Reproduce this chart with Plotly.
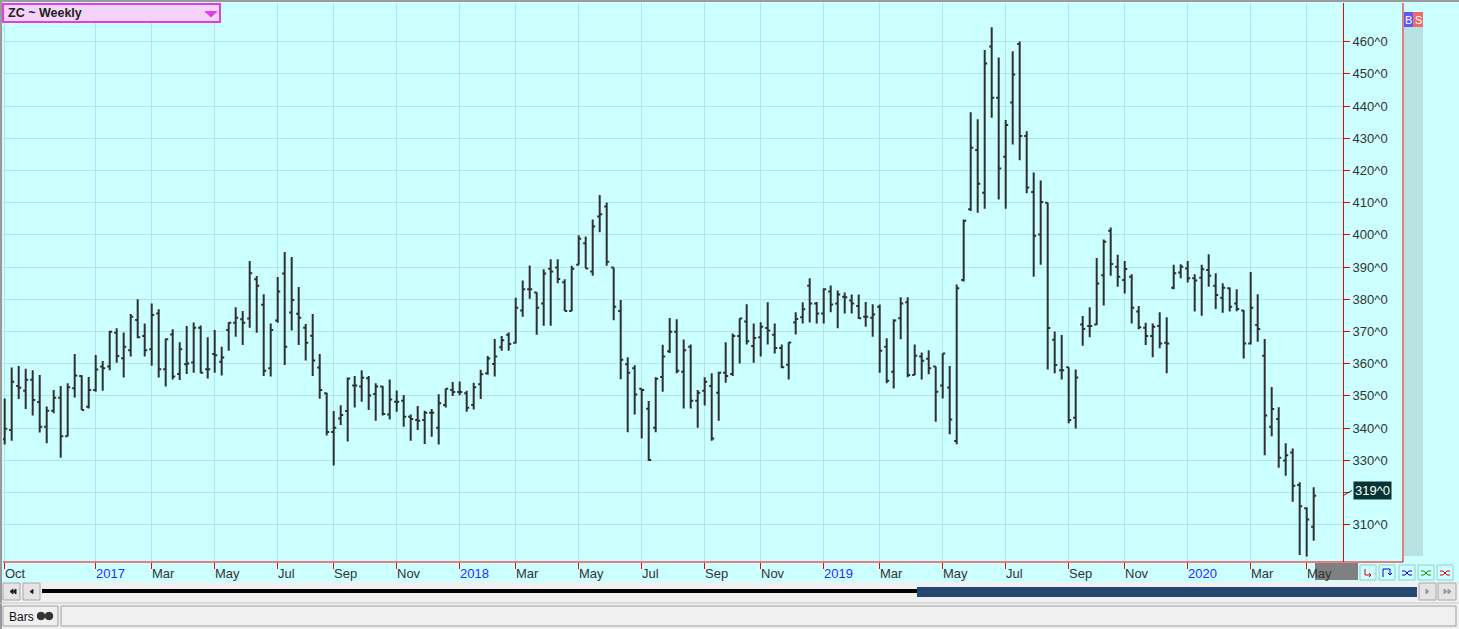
import pandas as pd
import plotly.graph_objects as go

# ---------------- data ----------------
week_ending = pd.date_range("2016-10-07", periods=188, freq="7D")

open_ = [
    336.5, 339.4, 353.1, 351.6, 355.0, 348.1, 340.4, 345.4, 349.4, 337.5,
    352.4, 356.2, 346.6, 351.8, 359.1, 359.1, 369.6, 361.7, 364.2, 373.6,
    368.6, 364.5, 375.6, 358.3, 369.1, 356.8, 359.8, 360.4, 371.2, 358.3,
    363.0, 360.6, 370.5, 372.7, 373.8, 374.0, 386.2, 378.3, 358.6, 373.4,
    388.0, 375.9, 375.5, 371.2, 368.7, 358.8, 350.8, 338.8, 343.0, 345.3,
    353.2, 352.9, 355.5, 350.6, 352.9, 344.2, 348.2, 348.5, 343.5, 342.5,
    342.5, 344.8, 340.1, 347.2, 351.8, 351.2, 350.8, 347.2, 353.6, 357.0,
    359.9, 365.1, 369.0, 366.5, 376.5, 383.1, 382.1, 378.7, 389.5, 389.9,
    385.3, 376.4, 390.7, 397.4, 388.6, 405.7, 408.8, 389.9, 376.4, 359.8,
    358.6, 352.2, 346.0, 340.1, 355.9, 363.9, 369.9, 357.5, 365.3, 348.5,
    351.6, 353.1, 351.0, 357.2, 356.8, 368.6, 373.1, 365.5, 368.2, 371.1,
    369.0, 364.9, 359.7, 372.8, 374.4, 384.2, 378.7, 375.6, 382.4, 378.7,
    380.8, 379.6, 377.9, 374.6, 374.3, 377.7, 365.3, 357.5, 374.1, 379.1,
    356.5, 362.2, 361.5, 359.1, 353.2, 352.6, 336.0, 386.0, 408.0, 426.4,
    413.1, 458.5, 442.6, 424.3, 441.1, 459.3, 430.7, 413.3, 400.1, 410.0,
    367.4, 358.0, 358.9, 343.2, 372.2, 371.7, 372.2, 387.5, 401.3, 390.1,
    386.0, 387.0, 376.2, 371.2, 368.6, 371.7, 366.5, 383.6, 388.3, 389.6,
    386.5, 386.7, 389.1, 384.2, 380.5, 383.4, 378.7, 376.5, 366.3, 372.0,
    362.5, 340.4, 342.8, 329.9, 332.4, 322.3, 315.1, 309.4,
]
high = [
    349.2, 358.8, 359.3, 358.4, 358.0, 356.5, 346.7, 351.8, 353.1, 353.9,
    363.0, 356.4, 355.9, 362.7, 360.8, 370.2, 371.0, 369.7, 375.4, 380.0,
    372.5, 378.7, 376.9, 367.8, 370.7, 366.7, 371.7, 372.8, 371.9, 368.2,
    370.5, 365.3, 372.9, 377.5, 376.4, 391.9, 387.2, 381.6, 372.5, 386.9,
    394.7, 393.1, 383.8, 372.3, 375.4, 363.0, 351.0, 345.3, 347.1, 355.7,
    356.2, 358.0, 356.2, 353.9, 353.1, 355.1, 351.7, 350.3, 344.2, 346.9,
    345.4, 345.9, 350.5, 352.3, 354.3, 354.5, 351.6, 354.1, 358.1, 362.4,
    367.7, 368.6, 369.7, 380.5, 385.8, 390.5, 382.2, 389.3, 392.4, 392.4,
    386.2, 390.4, 399.9, 399.5, 404.8, 412.4, 410.1, 389.9, 379.8, 362.0,
    359.5, 352.3, 348.4, 355.8, 365.9, 374.2, 373.8, 367.5, 366.0, 351.8,
    355.8, 357.0, 357.5, 366.7, 369.4, 374.1, 378.5, 372.5, 372.9, 379.1,
    372.5, 366.0, 366.7, 376.0, 379.1, 386.5, 379.2, 383.4, 384.3, 382.7,
    382.1, 381.5, 381.5, 379.2, 378.5, 378.4, 367.9, 373.8, 380.6, 380.6,
    366.0, 363.5, 364.2, 359.1, 363.2, 359.3, 384.6, 404.8, 438.1, 435.9,
    457.4, 464.5, 455.1, 435.7, 457.0, 460.1, 432.2, 419.4, 416.9, 410.0,
    370.0, 368.9, 358.9, 358.2, 374.8, 377.5, 392.8, 398.6, 402.3, 393.8,
    391.9, 387.8, 377.9, 372.7, 372.5, 376.0, 374.4, 390.7, 390.9, 391.9,
    387.8, 390.7, 394.0, 388.1, 385.0, 383.7, 383.1, 376.7, 388.5, 381.6,
    367.7, 352.8, 346.5, 335.3, 333.7, 323.2, 315.4, 321.6,
]
low = [
    334.9, 336.1, 349.0, 345.9, 343.9, 338.6, 335.3, 344.6, 330.8, 337.5,
    349.5, 345.6, 346.1, 351.3, 351.6, 358.0, 360.3, 355.7, 362.2, 367.9,
    362.2, 359.4, 355.7, 352.9, 355.1, 354.9, 356.8, 357.2, 357.0, 355.4,
    357.2, 356.3, 364.0, 368.4, 365.8, 371.2, 369.6, 356.2, 356.0, 372.7,
    359.6, 370.3, 365.8, 361.0, 356.2, 349.1, 337.7, 328.4, 341.0, 335.8,
    346.4, 348.2, 345.6, 342.3, 343.9, 342.7, 345.1, 340.4, 336.1, 339.4,
    335.1, 337.3, 334.9, 346.4, 350.0, 350.2, 345.1, 345.8, 349.0, 356.6,
    356.0, 364.0, 364.0, 366.3, 374.6, 380.2, 369.0, 371.8, 371.8, 385.0,
    376.4, 376.4, 390.7, 389.6, 387.3, 400.8, 390.4, 373.5, 355.2, 338.7,
    344.2, 336.8, 329.8, 338.7, 351.3, 363.3, 357.0, 346.1, 346.1, 340.1,
    347.0, 336.1, 342.3, 354.1, 356.2, 360.1, 366.0, 360.3, 362.2, 366.0,
    363.2, 358.6, 355.1, 369.1, 372.5, 372.8, 372.5, 372.5, 376.0, 371.0,
    375.6, 375.6, 373.9, 371.5, 368.4, 357.2, 353.9, 352.3, 367.6, 355.8,
    356.5, 355.1, 356.7, 342.0, 349.2, 338.1, 335.0, 385.5, 407.4, 406.9,
    408.1, 436.4, 411.0, 408.1, 428.1, 423.2, 412.9, 387.0, 390.7, 358.2,
    357.0, 355.1, 341.5, 339.9, 365.6, 368.2, 372.0, 378.1, 387.3, 383.9,
    381.8, 372.5, 370.7, 365.8, 362.0, 364.8, 357.0, 383.1, 386.5, 385.2,
    376.2, 374.9, 383.9, 377.0, 375.8, 376.2, 376.3, 361.6, 366.0, 366.8,
    331.6, 337.5, 327.7, 325.2, 317.1, 300.6, 300.1, 305.0,
]
close = [
    339.8, 354.4, 352.5, 355.0, 348.7, 340.4, 345.4, 349.4, 337.5, 352.7,
    356.3, 345.6, 351.8, 358.2, 358.6, 369.9, 362.4, 365.3, 374.6, 368.2,
    364.2, 375.1, 358.3, 367.6, 356.0, 364.5, 360.1, 371.2, 357.2, 358.3,
    362.6, 361.9, 372.7, 374.3, 372.7, 388.1, 384.2, 357.8, 370.5, 382.4,
    365.3, 379.8, 374.3, 366.5, 361.0, 351.8, 338.8, 340.1, 344.1, 355.4,
    353.2, 355.6, 350.1, 352.9, 344.4, 348.9, 348.2, 343.5, 342.8, 342.3,
    344.8, 344.8, 347.7, 352.2, 351.2, 351.2, 346.3, 352.7, 356.7, 361.6,
    362.2, 367.3, 366.1, 377.4, 383.1, 383.1, 377.4, 388.0, 388.6, 386.3,
    376.4, 389.5, 398.8, 389.6, 402.6, 406.4, 391.7, 377.7, 361.2, 357.2,
    350.4, 351.8, 330.1, 355.3, 362.2, 369.9, 357.8, 364.2, 348.5, 351.0,
    354.4, 336.8, 357.2, 356.2, 368.6, 374.0, 367.0, 368.0, 371.5, 370.3,
    364.9, 358.9, 366.6, 373.9, 376.9, 378.7, 375.6, 383.1, 378.4, 381.5,
    380.6, 378.7, 374.1, 374.6, 375.3, 364.0, 354.7, 373.4, 378.7, 356.5,
    362.5, 360.9, 358.6, 351.3, 363.2, 342.7, 383.4, 404.4, 427.1, 415.9,
    453.2, 442.6, 420.6, 434.1, 449.8, 430.7, 414.7, 399.7, 410.2, 371.1,
    359.6, 358.0, 342.5, 355.7, 370.8, 371.7, 384.9, 397.9, 391.0, 387.0,
    389.4, 377.4, 371.3, 368.6, 371.5, 366.3, 366.3, 388.1, 390.1, 386.5,
    385.8, 389.3, 387.3, 381.3, 383.6, 377.7, 377.0, 366.3, 377.4, 370.8,
    343.9, 345.9, 330.8, 331.6, 322.1, 315.7, 311.6, 319.0,
]

price_ticks = [310, 320, 330, 340, 350, 360, 370, 380, 390, 400, 410, 420, 430, 440, 450, 460]
price_tick_labels = ["310^0", "", "330^0", "340^0", "350^0", "360^0", "370^0", "380^0",
                     "390^0", "400^0", "410^0", "420^0", "430^0", "440^0", "450^0", "460^0"]
last_price_label = "319^0"
title_text = "ZC ~ Weekly"
month_abbr = {3: "Mar", 5: "May", 7: "Jul", 9: "Sep", 10: "Oct", 11: "Nov"}

# ---------------- geometry helpers ----------------
W, H = 1459, 629
L, R, T, B = 3, 1343, 3, 562          # plot area in pixels
SLOT, X0 = 7.0, 4.7                   # bar spacing, first bar pixel


def px(X):
    return (X - L) / (R - L)


def py(Y):
    return (B - Y) / (B - T)


def v_at(Y):
    return 460 - (Y - 41.7) / 3.22


idx = list(range(len(week_ending)))

# month tick positions (first bar of each labelled month; first bar always labelled)
tick_idx, tick_text, tick_col = [], [], []
prev = None
first_year = week_ending[0].year
for i, d in enumerate(week_ending):
    if prev is None or d.month != prev.month:
        if i == 0 or (d.year > first_year and d.month in (1, 3, 5, 7, 9, 11)):
            tick_idx.append(i)
            if d.month == 1:
                tick_text.append(str(d.year))
                tick_col.append("#2b2bff")
            else:
                tick_text.append(month_abbr[d.month])
                tick_col.append("#333333")
    prev = d

BG = "#ccffff"
GRID = "#b3e4e8"
BAR = "#303030"
FONT = "Liberation Sans"

fig = go.Figure()
fig.add_trace(go.Ohlc(
    x=idx, open=open_, high=high, low=low, close=close,
    increasing=dict(line=dict(color=BAR, width=2)),
    decreasing=dict(line=dict(color=BAR, width=2)),
    tickwidth=0.36, hoverinfo="skip",
))

shapes = []
annotations = []


def rect(x0, y0, x1, y1, fill, line=None, lw=1, layer="above"):
    shapes.append(dict(type="rect", xref="paper", yref="paper",
                       x0=px(x0), x1=px(x1), y0=py(y1), y1=py(y0),
                       fillcolor=fill,
                       line=dict(color=line if line else fill, width=lw if line else 0),
                       layer=layer))


def path(points, color, width=1, fill=None, closed=False):
    d = "M" + " L".join(f"{px(x):.6f},{py(y):.6f}" for x, y in points)
    if closed:
        d += " Z"
    shapes.append(dict(type="path", xref="paper", yref="paper", path=d,
                       line=dict(color=color, width=width),
                       fillcolor=fill if fill else "rgba(0,0,0,0)", layer="above"))


def text(x, y, s, size=13, color="#333333", xanchor="left", bg=None, family=FONT, **kw):
    a = dict(xref="paper", yref="paper", x=px(x), y=py(y), text=s, showarrow=False,
             xanchor=xanchor, yanchor="middle",
             font=dict(family=family, size=size, color=color))
    if bg:
        a["bgcolor"] = bg
    a.update(kw)
    annotations.append(a)


# outer frame lines
rect(0, 0, W, 2, "#9a9a9a")
rect(0, 0, 2, H, "#9a9a9a")

# right-hand strip with B / S
rect(1404, 27, 1423, 556, "#b8e2e2")
rect(1404, 12, 1413, 27, "#5a5aff")
rect(1413, 12, 1423, 27, "#f06a6a")
text(1408.5, 19.5, "B", size=11, color="white", xanchor="center")
text(1418, 19.5, "S", size=11, color="white", xanchor="center")

# red axis frame lines
path([(3, 562), (1403, 562)], "#ff0000", 1)
path([(1403, 3), (1403, 562)], "#ff0000", 1)

# grey "future" block and small buttons in the time-axis row
rect(1315, 563, 1358, 580, "#808080")
btn_x = [1360, 1379, 1399, 1418, 1437]
for bx in btn_x:
    rect(bx, 565, bx + 16, 580, BG, "#9cc8c8", 1)
path([(1365, 569), (1365, 575), (1371, 575)], "#e00000", 1)
path([(1369, 573), (1371, 575), (1369, 577)], "#e00000", 1)
path([(1383, 577), (1383, 569), (1390, 569), (1390, 575)], "#0000e0", 1)
path([(1388, 573), (1390, 575), (1392, 573)], "#0000e0", 1)
for bx, col in zip(btn_x[2:], ["#0000e0", "#00a000", "#e00000"]):
    path([(bx + 3, 571), (bx + 6, 571), (bx + 10, 575), (bx + 13, 575)], col, 1)
    path([(bx + 3, 575), (bx + 6, 575), (bx + 10, 571), (bx + 13, 571)], col, 1)

# bottom panel (scroll bar + status bar)
rect(0, 582, W, H, "#f0f0f0")
rect(0, 0, 2, H, "#9a9a9a")
rect(3, 583, 20, 600, "#e4e4e4", "#a8a8a8", 1)
rect(23, 583, 40, 600, "#e4e4e4", "#a8a8a8", 1)
path([(13, 589), (10, 591.5), (13, 594)], "#222222", 1, fill="#222222", closed=True)
path([(16, 589), (13, 591.5), (16, 594)], "#222222", 1, fill="#222222", closed=True)
path([(33, 589.5), (30, 591.5), (33, 593.5)], "#222222", 1, fill="#222222", closed=True)
rect(42, 589, 918, 593, "#000000")
rect(917, 587, 1417, 597, "#26476f")
rect(1419, 583, 1436, 600, "#e4e4e4", "#a8a8a8", 1)
rect(1438, 583, 1456, 600, "#e4e4e4", "#a8a8a8", 1)
path([(1426, 589), (1429, 591.5), (1426, 594)], "#999999", 1, fill="#999999", closed=True)
path([(1444, 589), (1447, 591.5), (1444, 594)], "#999999", 1, fill="#999999", closed=True)
path([(1448, 589), (1451, 591.5), (1448, 594)], "#999999", 1, fill="#999999", closed=True)
path([(0, 603), (W, 603)], "#c8c8c8", 1)
rect(3, 606, 58, 626, "#f0f0f0", "#a0a0a0", 1)
rect(61, 606, 1456, 626, "#f0f0f0", "#a0a0a0", 1)
text(7, 616.5, "Bars", size=12, color="#111111")
for cx in (41, 49):
    shapes.append(dict(type="circle", xref="paper", yref="paper",
                       x0=px(cx - 3.8), x1=px(cx + 3.8), y0=py(619.8), y1=py(612.2),
                       fillcolor="#333333", line=dict(color="#333333", width=1), layer="above"))

# title drop-down
rect(3, 4, 220, 22, "#f4d4f8", "#e03ee0", 2)
path([(205, 11.5), (217, 11.5), (211, 17)], "#e03ee0", 1, fill="#e03ee0", closed=True)
text(6, 13.5, "<b>" + title_text + "</b>", size=12.5, color="#222222")

# last price marker
last_y = 41.7 + (460 - close[-1]) * 3.22
path([(1343, last_y), (1352, 490.5)], "#333333", 1)
text(1372, 490.5, last_price_label, size=13, color="white", xanchor="center",
     bg="#063434", borderpad=1)

# time axis labels (left aligned at their tick)
for i, s, c in zip(tick_idx, tick_text, tick_col):
    annotations.append(dict(xref="x", yref="paper", x=i, y=py(573.5), text=s,
                            showarrow=False, xanchor="left", yanchor="middle", xshift=-2,
                            font=dict(family=FONT, size=13, color=c)))

fig.update_layout(
    width=W, height=H,
    margin=dict(l=L, r=W - R, t=T, b=H - B, pad=0),
    paper_bgcolor=BG, plot_bgcolor=BG,
    showlegend=False, hovermode=False,
    shapes=shapes, annotations=annotations,
    xaxis=dict(
        range=[(L - X0) / SLOT, (R - X0) / SLOT],
        tickvals=tick_idx, showticklabels=False,
        ticks="outside", ticklen=6, tickwidth=1, tickcolor="#ff0000",
        showgrid=True, gridcolor=GRID, gridwidth=1,
        zeroline=False, showline=False,
        rangeslider=dict(visible=False), fixedrange=True,
    ),
    yaxis=dict(
        side="right",
        range=[v_at(B), v_at(T)],
        tickvals=price_ticks, ticktext=price_tick_labels,
        ticks="outside", ticklen=6, tickwidth=1, tickcolor="#ff0000",
        showline=True, linecolor="#ff0000", linewidth=1,
        showgrid=True, gridcolor=GRID, gridwidth=1, zeroline=False,
        tickfont=dict(family=FONT, size=13, color="#333333"),
        fixedrange=True,
    ),
)

fig.write_html(
    "out.html",
    config={"displayModeBar": False},
    post_script="document.body.style.margin='0px';document.body.style.overflow='hidden';",
)
